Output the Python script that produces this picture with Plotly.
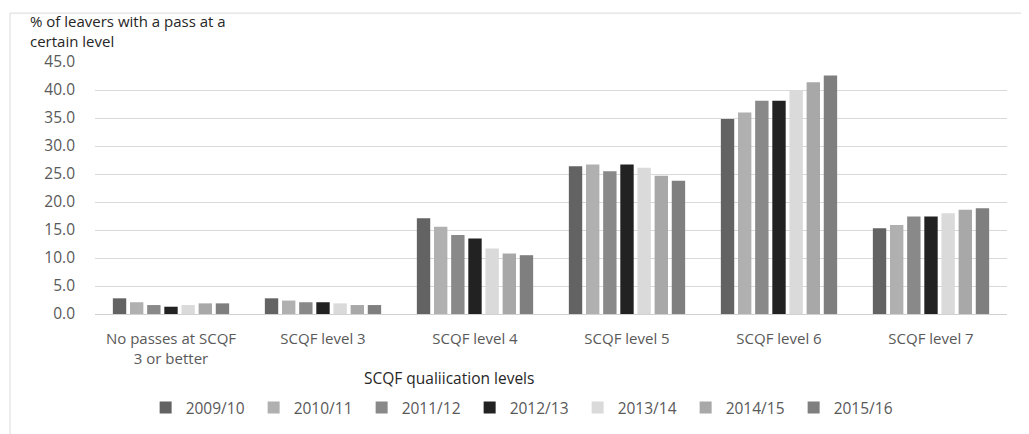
import plotly.graph_objects as go

categories = ["No passes at SCQF<br>3 or better", "SCQF level 3", "SCQF level 4",
              "SCQF level 5", "SCQF level 6", "SCQF level 7"]
years = ["2009/10", "2010/11", "2011/12", "2012/13", "2013/14", "2014/15", "2015/16"]
v_2009_10 = [2.8, 2.8, 17.1, 26.4, 34.8, 15.3]
v_2010_11 = [2.1, 2.4, 15.6, 26.7, 36.0, 15.9]
v_2011_12 = [1.6, 2.1, 14.1, 25.5, 38.1, 17.4]
v_2012_13 = [1.3, 2.1, 13.5, 26.7, 38.1, 17.4]
v_2013_14 = [1.6, 1.9, 11.7, 26.1, 39.8, 18.0]
v_2014_15 = [1.9, 1.6, 10.8, 24.7, 41.4, 18.6]
v_2015_16 = [1.9, 1.6, 10.5, 23.8, 42.6, 18.9]
series = [v_2009_10, v_2010_11, v_2011_12, v_2012_13, v_2013_14, v_2014_15, v_2015_16]
colors = ["#636363", "#b0b0b0", "#898989", "#222222", "#dadada", "#a8a8a8", "#7f7f7f"]
y_ticks = [0, 5, 10, 15, 20, 25, 30, 35, 40, 45]

FONT = "Open Sans"
fig = go.Figure()
for name, vals, col in zip(years, series, colors):
    fig.add_trace(go.Bar(x=categories, y=vals, name=name,
                         marker=dict(color=col, line=dict(width=0))))

fig.update_layout(
    width=1021, height=426,
    margin=dict(l=87, r=22, t=54, b=120, autoexpand=False),
    paper_bgcolor="white", plot_bgcolor="white",
    barmode="group", bargap=0.21, bargroupgap=0.22,
    font=dict(family=FONT, size=15, color="#595959"),
    showlegend=True,
    legend=dict(orientation="h", x=0.47, xanchor="center", y=-0.373, yanchor="middle",
                entrywidth=63, entrywidthmode="pixels", tracegroupgap=0,
                font=dict(family=FONT, size=15.5, color="#595959"),
                itemclick=False, traceorder="normal"),
    xaxis=dict(showgrid=False, showline=True, linecolor="#d0d0d0", linewidth=1,
               ticks="", tickfont=dict(family=FONT, size=15, color="#595959"),
               ticklabelstandoff=11),
    yaxis=dict(range=[0, 45], tickvals=y_ticks, tickformat=".1f",
               showgrid=True, gridcolor="#d9d9d9", gridwidth=1, zeroline=False,
               showline=False, ticks="", ticklabelstandoff=19,
               tickfont=dict(family=FONT, size=15.5, color="#595959")),
    annotations=[
        dict(text="% of leavers with a pass at a<br>certain level", xref="paper", yref="paper",
             x=-0.074, y=1.21, xanchor="left", yanchor="top", align="left", showarrow=False,
             font=dict(family=FONT, size=15, color="#262626")),
        dict(text="SCQF qualiication levels", xref="paper", yref="paper",
             x=0.388, y=-0.254, xanchor="center", yanchor="middle", showarrow=False,
             font=dict(family=FONT, size=15.5, color="#262626")),
    ],
    shapes=[
        dict(type="line", xref="paper", yref="paper", x0=-0.0932, x1=1.05, y0=1.194, y1=1.194,
             line=dict(color="#d9d9d9", width=1)),
        dict(type="line", xref="paper", yref="paper", x0=-0.0932, x1=-0.0932, y0=1.194, y1=-0.5,
             line=dict(color="#d9d9d9", width=1)),
    ],
)
fig.write_html("out.html")
